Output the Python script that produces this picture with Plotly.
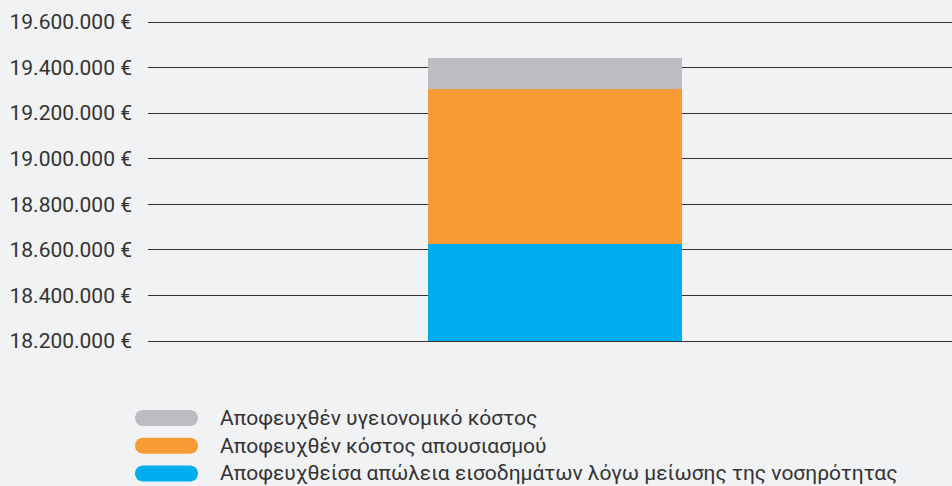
import plotly.graph_objects as go

categories = ["Σύνολο"]
series_names = [
    "Αποφευχθείσα απώλεια εισοδημάτων λόγω μείωσης της νοσηρότητας",
    "Αποφευχθέν κόστος απουσιασμού",
    "Αποφευχθέν υγειονομικό κόστος",
]
series_values = [
    [18626000],
    [679000],
    [136000],
]
series_colors = ["#00AEEF", "#F99B35", "#BCBDC0"]
tick_values = [18200000, 18400000, 18600000, 18800000, 19000000, 19200000, 19400000, 19600000]
tick_labels = [f"{v:,}".replace(",", ".") + " €" for v in tick_values]

W, H = 952, 486
L, R, T, B = 148, 0, 19, 145
plot_w = W - L - R
plot_h = H - T - B
# three extra pixels above so the top gridline is drawn
unit_per_px = (tick_values[-1] - tick_values[0]) / (plot_h - 3)
y_range = [tick_values[0], tick_values[-1] + 3 * unit_per_px]

fig = go.Figure()
for name, vals, col in zip(series_names, series_values, series_colors):
    fig.add_trace(go.Bar(
        x=[0], y=vals, name=name, marker=dict(color=col, line=dict(width=0)),
        width=0.316, showlegend=False, hoverinfo="skip",
    ))


def pill_path(w, h):
    r = h / 2
    k = 0.5523 * r
    x0, x1, y0, y1 = -w / 2, w / 2, -h / 2, h / 2
    return (f"M {x0 + r},{y0} L {x1 - r},{y0} "
            f"C {x1 - r + k},{y0} {x1},{y0 + r - k} {x1},{y0 + r} "
            f"C {x1},{y0 + r + k} {x1 - r + k},{y1} {x1 - r},{y1} "
            f"L {x0 + r},{y1} "
            f"C {x0 + r - k},{y1} {x0},{y1 - r + k} {x0},{y1 - r} "
            f"C {x0},{y1 - r - k} {x0 + r - k},{y0} {x0 + r},{y0} Z")


# manual legend with pill swatches
legend_order = [2, 1, 0]
row_centers_px = [418, 445.7, 473.4]
for idx, cy in zip(legend_order, row_centers_px):
    yp = (H - B - cy) / plot_h
    xp = (166.5 - L) / plot_w
    fig.add_shape(type="path", xref="paper", yref="paper", xsizemode="pixel", ysizemode="pixel",
                  xanchor=xp, yanchor=yp, path=pill_path(63, 16), fillcolor=series_colors[idx],
                  line=dict(width=0))
    fig.add_annotation(x=(222 - L) / plot_w, y=yp, xref="paper", yref="paper",
                       text=series_names[idx], showarrow=False, xanchor="left", yanchor="middle",
                       xshift=-4, font=dict(size=21, color="#333333", family="Roboto"))

fig.update_layout(
    width=W, height=H,
    margin=dict(l=L, r=R, t=T, b=B, pad=0),
    barmode="stack",
    bargap=0,
    paper_bgcolor="#F1F2F4",
    plot_bgcolor="#F1F2F4",
    font=dict(family="Roboto", size=21, color="#333333"),
    xaxis=dict(range=[-0.506, 0.494], showticklabels=False, showgrid=False, zeroline=False,
               showline=True, linecolor="#333333", linewidth=1, fixedrange=True),
    yaxis=dict(range=y_range, tickmode="array", tickvals=tick_values,
               ticktext=tick_labels, showgrid=True, gridcolor="#333333", gridwidth=1,
               zeroline=False, showline=False, ticklabelstandoff=15,
               tickfont=dict(size=21, color="#333333", family="Roboto")),
)

fig.write_html(
    "out.html",
    config={"displayModeBar": False},
    post_script="document.body.style.margin='0';document.body.style.background='#F1F2F4';",
)
